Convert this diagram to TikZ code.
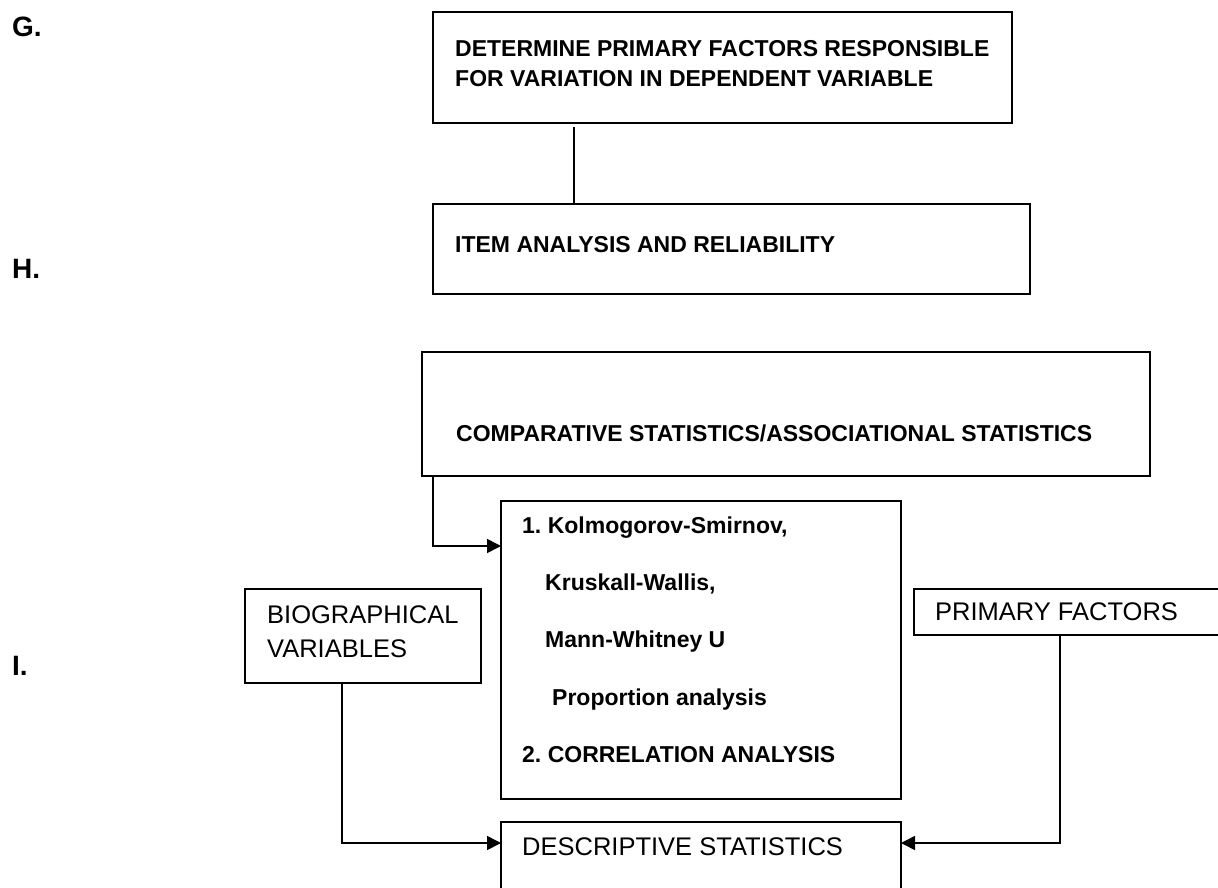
\documentclass[tikz,border=0pt]{standalone}
\usepackage{fontspec}
\setmainfont{Liberation Sans}
\usetikzlibrary{arrows.meta}
\frenchspacing
\begin{document}
\begin{tikzpicture}[x=1pt,y=-1pt,
  box/.style={draw, line width=1.6pt, inner sep=0pt, outer sep=0pt, anchor=north west},
  bt/.style={font=\fontsize{23}{27}\selectfont\bfseries, inner sep=0pt, anchor=base west},
  rt/.style={font=\fontsize{25.5}{30}\selectfont, inner sep=0pt, anchor=base west},
  lab/.style={font=\fontsize{28}{32}\selectfont\bfseries, inner sep=0pt, anchor=base west},
  ln/.style={line width=1.6pt},
  arr/.style={line width=1.6pt, -{Triangle[length=14pt,width=14pt]}}]
\fill[white] (0,0) rectangle (1218,888);
\useasboundingbox (0,0) rectangle (1218,888);
% labels
\node[lab] (lg) at (12,37) {G.};
\node[lab] (lh) at (12,278) {H.};
\node[lab] (li) at (12,675) {I.};
% boxes
\node[box, minimum width=579pt, minimum height=111pt] (top) at (433,12) {};
\node[box, minimum width=597pt, minimum height=90pt] (b2) at (433,204) {};
\node[box, minimum width=728pt, minimum height=124pt] (b3) at (422,352) {};
\node[box, minimum width=400pt, minimum height=298pt] (b4) at (501,501) {};
\node[box, minimum width=236pt, minimum height=94pt] (bio) at (245,589) {};
\node[box, minimum width=320pt, minimum height=46pt] (pf) at (914,589) {};
\node[box, minimum width=400pt, minimum height=80pt] (desc) at (501,822) {};
% texts
\node[bt] (t1a) at (455,57) {DETERMINE PRIMARY FACTORS RESPONSIBLE};
\node[bt] (t1b) at (455,87) {FOR VARIATION IN DEPENDENT VARIABLE};
\node[bt] (t2) at (455,252) {ITEM ANALYSIS AND RELIABILITY};
\node[bt] (t3) at (456,441) {COMPARATIVE STATISTICS/ASSOCIATIONAL STATISTICS};
\node[bt] (t4a) at (522,533) {1. Kolmogorov-Smirnov,};
\node[bt] (t4b) at (545,590) {Kruskall-Wallis,};
\node[bt] (t4c) at (545,647) {Mann-Whitney U};
\node[bt] (t4d) at (552,705) {Proportion analysis};
\node[bt] (t4e) at (522,762) {2. CORRELATION ANALYSIS};
\node[rt] (tbio1) at (267,623) {BIOGRAPHICAL};
\node[rt] (tbio2) at (267,657) {VARIABLES};
\node[rt] (tpf) at (935,620) {PRIMARY FACTORS};
\node[rt] (tdesc) at (522,855) {DESCRIPTIVE STATISTICS};
% connectors
\coordinate (k0) at (574,0);
\coordinate (k1) at (433,546);
\coordinate (k2) at (342,843);
\coordinate (k3) at (1060,843);
\draw[ln] ([yshift=-4pt]top.south -| k0) -- (b2.north -| k0);
\draw[arr] (b3.south -| k1) |- (b4.west |- k1);
\draw[arr] (bio.south -| k2) |- (desc.west |- k2);
\draw[arr] (pf.south -| k3) |- (desc.east |- k3);
\end{tikzpicture}
\end{document}
